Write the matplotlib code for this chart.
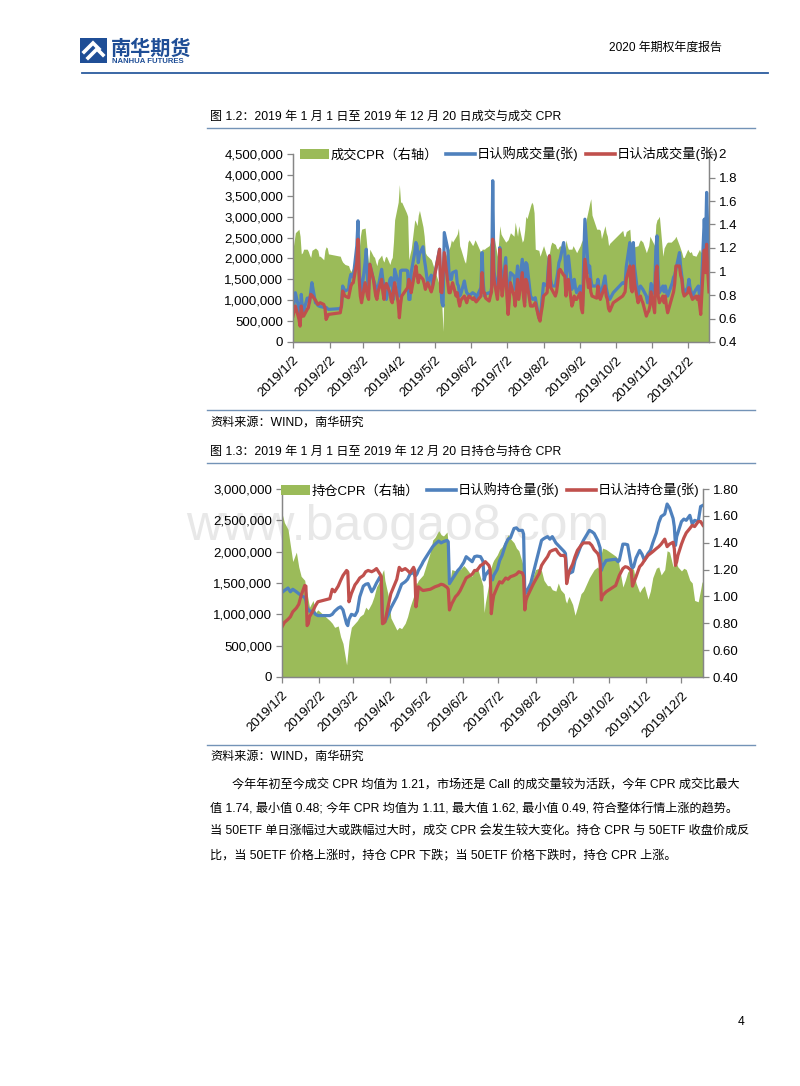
# 2020 期权年度报告 第4页：成交/持仓 CPR 图
import matplotlib
matplotlib.use("Agg")

import pandas as pd
import matplotlib.pyplot as plt
from matplotlib.lines import Line2D
from matplotlib.patches import Patch, Rectangle
from matplotlib.ticker import FuncFormatter, MultipleLocator

# =========================
# 数据（成交量、持仓量单位：百万张）
# =========================
dates_cj = [
    "01-02", "01-03", "01-04", "01-07", "01-08", "01-09", "01-10", "01-11", "01-14", "01-15",
    "01-16", "01-17", "01-18", "01-21", "01-22", "01-23", "01-24", "01-25", "01-28", "01-29",
    "01-30", "01-31", "02-01",
    "02-11", "02-12", "02-13", "02-14", "02-15", "02-18", "02-19", "02-20", "02-21", "02-22",
    "02-25", "02-26", "02-27", "02-28",
    "03-01", "03-04", "03-05", "03-06", "03-07", "03-08", "03-11", "03-12", "03-13", "03-14",
    "03-15", "03-18", "03-19", "03-20", "03-21", "03-22", "03-25", "03-26", "03-27", "03-28",
    "03-29",
    "04-01", "04-02", "04-03", "04-04", "04-08", "04-09", "04-10", "04-11", "04-12", "04-15",
    "04-16", "04-17", "04-18", "04-19", "04-22", "04-23", "04-24", "04-25", "04-26", "04-29",
    "04-30",
    "05-06", "05-07", "05-08", "05-09", "05-10", "05-13", "05-14", "05-15", "05-16", "05-17",
    "05-20", "05-21", "05-22", "05-23", "05-24", "05-27", "05-28", "05-29", "05-30", "05-31",
    "06-03", "06-04", "06-05", "06-06", "06-10", "06-11", "06-12", "06-13", "06-14", "06-17",
    "06-18", "06-19", "06-20", "06-21", "06-24", "06-25", "06-26", "06-27", "06-28",
    "07-01", "07-02", "07-03", "07-04", "07-05", "07-08", "07-09", "07-10", "07-11", "07-12",
    "07-15", "07-16", "07-17", "07-18", "07-19", "07-22", "07-23", "07-24", "07-25", "07-26",
    "07-29", "07-30", "07-31",
    "08-01", "08-02", "08-05", "08-06", "08-07", "08-08", "08-09", "08-12", "08-13", "08-14",
    "08-15", "08-16", "08-19", "08-20", "08-21", "08-22", "08-23", "08-26", "08-27", "08-28",
    "08-29", "08-30",
    "09-02", "09-03", "09-04", "09-05", "09-06", "09-09", "09-10", "09-11", "09-12", "09-16",
    "09-17", "09-18", "09-19", "09-20", "09-23", "09-24", "09-25", "09-26", "09-27", "09-30",
    "10-08", "10-09", "10-10", "10-11", "10-14", "10-15", "10-16", "10-17", "10-18", "10-21",
    "10-22", "10-23", "10-24", "10-25", "10-28", "10-29", "10-30", "10-31",
    "11-01", "11-04", "11-05", "11-06", "11-07", "11-08", "11-11", "11-12", "11-13", "11-14",
    "11-15", "11-18", "11-19", "11-20", "11-21", "11-22", "11-25", "11-26", "11-27", "11-28",
    "11-29",
    "12-02", "12-03", "12-04", "12-05", "12-06", "12-09", "12-10", "12-11", "12-12", "12-13",
    "12-16", "12-17", "12-18", "12-19", "12-20",
]

call_cj = [
    0.78, 0.95, 1.18, 0.80, 0.62, 1.14, 0.80, 0.74, 1.05, 1.05,
    0.94, 1.20, 1.42, 0.94, 0.92, 0.88, 0.86, 0.85, 0.83, 0.82,
    0.83, 0.80, 0.78,
    0.80, 0.85, 1.34, 1.28, 1.22, 1.26, 1.50, 1.62, 1.58, 1.55,
    2.30, 2.90, 1.66, 1.40,
    1.18, 1.90, 2.22, 1.50, 1.26, 1.86, 1.50, 1.42, 1.30, 1.22,
    1.30, 1.74, 1.50, 1.34, 1.20, 1.02, 1.50, 1.54, 1.30, 1.02,
    1.74,
    1.42, 1.10, 1.70, 1.72, 1.72, 1.70, 1.02, 1.02, 1.66, 2.14,
    2.38, 2.30, 1.90, 2.10, 2.28, 2.00, 1.82, 1.60, 1.42, 1.60,
    1.34,
    2.22, 1.40, 0.94, 0.86, 2.62, 2.22, 1.66, 1.50, 1.50, 1.66,
    1.70, 1.40, 1.34, 1.10, 1.15, 1.46, 1.30, 1.18, 1.15, 1.10,
    1.18, 1.16, 1.14, 1.05, 1.30, 2.14, 1.40, 1.10, 1.15, 1.18,
    1.14, 1.30, 3.86, 1.70, 1.18, 1.60, 2.26, 1.70, 1.26,
    2.02, 1.30, 0.94, 1.30, 1.66, 1.58, 1.26, 1.50, 1.82, 1.26,
    1.98, 1.40, 0.94, 1.90, 1.86, 1.10, 1.06, 1.02, 1.04, 1.06,
    0.58, 0.54, 0.80,
    1.10, 1.40, 1.34, 1.80, 2.06, 1.50, 1.34, 1.34, 1.50, 1.66,
    1.90, 1.98, 2.38, 2.14, 1.50, 1.80, 2.06, 1.26, 1.40, 1.50,
    1.30, 1.18,
    1.34, 1.10, 0.86, 2.00, 2.94, 1.66, 1.82, 1.50, 1.34, 1.34,
    1.50, 1.30, 1.22, 1.18, 1.58, 1.30, 1.18, 1.05, 1.02, 1.18,
    1.42, 1.40, 1.40, 1.80, 2.38, 1.70, 1.66, 2.38, 1.80, 1.10,
    1.30, 1.34, 1.30, 1.26, 1.10, 0.94, 1.00, 1.10,
    1.40, 1.15, 2.20, 2.54, 1.50, 1.18, 1.34, 1.20, 1.34, 1.20,
    1.10, 1.34, 1.42, 1.55, 1.60, 1.74, 2.14, 1.80, 1.58, 1.30,
    1.18,
    1.30, 1.50, 1.30, 1.20, 1.10, 1.26, 1.30, 1.34, 1.10, 0.94,
    2.94, 2.22, 3.58, 2.62, 1.90,
]

put_cj = [
    0.62, 0.75, 0.86, 0.55, 0.38, 0.86, 0.62, 0.62, 0.78, 0.82,
    0.98, 1.14, 1.12, 1.00, 0.95, 0.90, 0.92, 0.94, 0.90, 0.82,
    0.54, 0.60, 0.66,
    0.70, 0.87, 1.22, 1.16, 1.10, 1.06, 1.20, 1.34, 1.40, 1.42,
    1.90, 2.46, 1.50, 1.10,
    0.94, 1.42, 1.26, 1.10, 1.02, 1.86, 1.50, 1.30, 1.10, 1.02,
    1.20, 1.50, 1.20, 1.02, 1.34, 1.40, 1.18, 1.00, 0.94, 1.20,
    1.42,
    0.94, 0.58, 0.90, 1.10, 1.26, 1.30, 1.50, 1.40, 1.18, 1.66,
    1.82, 1.60, 1.42, 1.60, 1.50, 1.40, 1.26, 1.35, 1.42, 1.20,
    1.30,
    2.22, 1.20, 1.18, 1.66, 2.14, 1.42, 1.18, 1.18, 1.30, 1.42,
    1.10, 1.18, 1.00, 0.86, 1.00, 1.10, 1.02, 0.94, 1.05, 1.10,
    1.02, 1.06, 1.00, 0.96, 1.10, 1.66, 1.20, 1.18, 1.05, 0.98,
    1.10, 1.20, 2.46, 1.50, 1.02, 1.40, 2.22, 1.40, 1.10,
    1.82, 1.10, 0.66, 1.00, 1.42, 1.10, 0.86, 1.20, 1.50, 1.02,
    1.66, 1.10, 0.86, 1.50, 1.42, 0.86, 0.86, 0.86, 0.90, 0.94,
    0.58, 0.50, 0.70,
    0.86, 1.10, 1.18, 1.60, 2.06, 1.30, 1.26, 1.10, 1.20, 1.42,
    1.70, 1.74, 1.60, 1.58, 1.10, 1.40, 1.50, 0.86, 0.95, 1.10,
    1.02, 1.02,
    1.18, 0.80, 0.70, 1.40, 1.98, 1.30, 1.50, 1.20, 1.10, 1.05,
    1.34, 1.10, 1.02, 1.10, 1.34, 1.10, 1.02, 0.80, 0.74, 0.94,
    1.10, 1.15, 1.20, 1.50, 1.82, 1.30, 1.20, 1.82, 1.40, 0.94,
    1.05, 1.10, 1.00, 0.94, 0.62, 0.70, 0.74, 0.86,
    1.20, 0.70, 1.66, 1.82, 1.10, 0.94, 1.10, 0.94, 1.10, 0.86,
    0.70, 1.00, 1.10, 1.20, 1.40, 1.82, 1.82, 1.60, 1.50, 1.20,
    1.10,
    1.18, 1.30, 1.18, 1.10, 1.02, 1.10, 1.02, 1.10, 0.90, 0.66,
    2.20, 1.66, 2.34, 1.66, 1.20,
]

cpr_cj = [
    1.19, 1.26, 1.33, 1.36, 1.30, 1.15, 1.16, 1.19, 1.19, 1.17,
    1.14, 1.12, 1.18, 1.20, 1.19, 1.18, 1.13, 1.13, 1.10, 1.18,
    1.21, 1.20, 1.15,
    1.13, 1.10, 1.08, 1.07, 1.06, 1.05, 1.02, 1.00, 1.02, 1.04,
    1.16, 1.27, 1.19, 1.30,
    1.36, 1.37, 1.27, 1.15, 1.07, 1.19, 1.13, 1.12, 1.08, 1.05,
    1.10, 1.14, 1.10, 1.08, 1.12, 1.13, 1.06, 1.10, 1.12, 1.25,
    1.44,
    1.59, 1.74, 1.59, 1.59, 1.50, 1.47, 1.10, 1.15, 1.19, 1.44,
    1.42, 1.39, 1.48, 1.52, 1.38, 1.30, 1.16, 1.14, 1.13, 1.10,
    1.07,
    0.88, 0.85, 0.70, 0.49, 1.10, 1.19, 1.19, 1.22, 1.27, 1.25,
    1.30, 1.32, 1.37, 1.22, 1.19, 1.09, 1.07, 1.15, 1.25, 1.27,
    1.22, 1.24, 1.27, 1.25, 1.16, 1.19, 1.19, 1.19, 1.20, 1.22,
    1.25, 1.30, 1.36, 1.30, 1.13, 1.25, 1.39, 1.32, 1.30,
    1.25, 1.26, 1.27, 1.30, 1.33, 1.30, 1.42, 1.36, 1.30, 1.39,
    1.25, 1.27, 1.35, 1.47, 1.45, 1.56, 1.59, 1.57, 1.50, 1.19,
    1.18, 1.13, 1.16,
    1.19, 1.22, 1.12, 1.14, 1.16, 1.22, 1.25, 1.23, 1.20, 1.19,
    1.21, 1.22, 1.19, 1.18, 1.27, 1.22, 1.19, 1.19, 1.22, 1.20,
    1.18, 1.16,
    1.22, 1.25, 1.27, 1.33, 1.39, 1.53, 1.58, 1.62, 1.48, 1.36,
    1.36, 1.36, 1.35, 1.28, 1.39, 1.33, 1.30, 1.22, 1.24, 1.27,
    1.35, 1.30, 1.30, 1.34, 1.36, 1.22, 1.19, 1.18, 1.21, 1.22,
    1.25, 1.27, 1.26, 1.25, 1.16, 1.19, 1.22, 1.30,
    1.28, 1.22, 1.40, 1.44, 1.45, 1.47, 1.13, 1.20, 1.22, 1.24,
    1.25, 1.25, 1.26, 1.27, 1.28, 1.30, 1.22, 1.19, 1.16, 1.12,
    1.12,
    1.19, 1.17, 1.16, 1.17, 1.14, 1.13, 1.15, 1.17, 1.19, 1.16,
    1.22, 1.19, 1.22, 1.19, 1.27,
]

dates_cc = [
    "01-02", "01-04", "01-07", "01-09", "01-11", "01-14", "01-16", "01-18", "01-21", "01-22",
    "01-23", "01-24", "01-25", "01-28", "01-30", "02-01",
    "02-11", "02-13", "02-15", "02-18", "02-20", "02-22", "02-25", "02-26", "02-27",
    "03-01", "03-04", "03-06", "03-08", "03-11", "03-13", "03-15", "03-18", "03-20", "03-22",
    "03-25", "03-26", "03-27", "03-28", "03-29",
    "04-01", "04-03", "04-08", "04-10", "04-12", "04-15", "04-17", "04-19", "04-22", "04-23",
    "04-24", "04-25", "04-26", "04-29", "04-30",
    "05-06", "05-08", "05-10", "05-13", "05-15", "05-17", "05-20", "05-21", "05-22", "05-23",
    "05-24", "05-27", "05-29", "05-31",
    "06-03", "06-05", "06-10", "06-12", "06-14", "06-17", "06-19", "06-20", "06-21", "06-24",
    "06-25", "06-26", "06-27", "06-28",
    "07-01", "07-03", "07-05", "07-08", "07-10", "07-12", "07-15", "07-17", "07-19", "07-22",
    "07-23", "07-24", "07-25", "07-26", "07-29", "07-31",
    "08-02", "08-05", "08-07", "08-09", "08-12", "08-14", "08-16", "08-19", "08-21", "08-23",
    "08-26", "08-27", "08-28", "08-29", "08-30",
    "09-02", "09-04", "09-06", "09-09", "09-11", "09-16", "09-18", "09-20", "09-23", "09-24",
    "09-25", "09-26", "09-27", "09-30",
    "10-08", "10-10", "10-11", "10-14", "10-16", "10-18", "10-21", "10-22", "10-23", "10-25",
    "10-28", "10-30",
    "11-01", "11-04", "11-06", "11-08", "11-11", "11-13", "11-15", "11-18", "11-20", "11-22",
    "11-25", "11-26", "11-27", "11-28", "11-29",
    "12-02", "12-04", "12-06", "12-09", "12-11", "12-13", "12-16", "12-18", "12-19", "12-20",
]

call_cc = [
    1.35, 1.38, 1.42, 1.36, 1.40, 1.36, 1.33, 1.30, 1.27, 1.22,
    1.10, 1.08, 1.05, 1.05, 1.00, 0.98,
    0.98, 1.00, 1.05, 1.10, 1.12, 1.07, 0.85, 0.82, 0.92,
    1.00, 0.98, 1.05, 1.28, 1.45, 1.48, 1.49, 1.36, 1.42, 1.50,
    1.60, 1.57, 0.92, 0.90, 0.88,
    1.00, 1.10, 1.28, 1.38, 1.48, 1.52, 1.56, 1.64, 1.67, 1.62,
    1.62, 1.65, 1.70, 1.80, 1.84,
    2.02, 2.08, 2.12, 2.17, 2.14, 2.16, 2.18, 2.16, 1.49, 1.52,
    1.55, 1.64, 1.70, 1.74,
    1.83, 1.92, 1.84, 1.92, 1.93, 1.92, 1.85, 1.55, 1.62, 1.70,
    1.65, 1.58, 1.55, 1.62,
    1.72, 1.86, 1.94, 2.12, 2.20, 2.22, 2.37, 2.38, 2.34, 2.34,
    2.28, 1.33, 1.36, 1.38, 1.50, 1.65,
    1.80, 2.02, 2.18, 2.21, 2.24, 2.20, 2.24, 2.14, 2.10, 2.06,
    2.00, 1.97, 1.70, 1.66, 1.65,
    1.68, 1.86, 1.95, 2.10, 2.18, 2.34, 2.32, 2.29, 2.18, 2.12,
    2.06, 1.70, 1.76, 1.86,
    1.88, 1.84, 1.86, 2.12, 2.12, 2.11, 1.78, 1.74, 1.76, 1.90,
    2.02, 1.96,
    1.86, 1.97, 2.02, 2.14, 2.30, 2.46, 2.56, 2.60, 2.76, 2.70,
    2.53, 2.40, 2.10, 2.24, 2.30,
    2.48, 2.52, 2.50, 2.58, 2.44, 2.50, 2.48, 2.72, 2.73, 2.74,
]

put_cc = [
    0.80, 0.87, 0.92, 0.96, 1.04, 1.10, 1.16, 1.30, 1.46, 1.45,
    0.82, 0.85, 0.96, 1.06, 1.14, 1.20,
    1.25, 1.40, 1.36, 1.45, 1.54, 1.62, 1.70, 1.68, 1.20,
    1.33, 1.47, 1.52, 1.58, 1.62, 1.68, 1.70, 1.68, 1.70, 1.73,
    1.64, 1.60, 0.85, 0.86, 0.88,
    1.15, 1.33, 1.56, 1.75, 1.70, 1.73, 1.70, 1.66, 1.75, 1.70,
    1.12, 1.25, 1.44, 1.39, 1.38,
    1.40, 1.42, 1.44, 1.46, 1.48, 1.47, 1.43, 1.40, 1.07, 1.12,
    1.17, 1.28, 1.32, 1.38,
    1.50, 1.58, 1.64, 1.70, 1.70, 1.78, 1.80, 1.82, 1.84, 1.78,
    1.72, 1.01, 1.18, 1.30,
    1.44, 1.52, 1.50, 1.58, 1.56, 1.60, 1.62, 1.64, 1.68, 1.66,
    1.60, 1.07, 1.22, 1.28, 1.40, 1.48,
    1.55, 1.65, 1.78, 1.84, 1.92, 2.00, 2.02, 2.04, 1.98, 1.94,
    1.94, 1.90, 1.49, 1.58, 1.68,
    1.80, 1.92, 2.02, 2.10, 2.14, 2.14, 2.10, 2.03, 1.97, 1.92,
    1.80, 1.23, 1.30, 1.36,
    1.46, 1.57, 1.62, 1.73, 1.76, 1.75, 1.70, 1.45, 1.50, 1.60,
    1.76, 1.80,
    1.86, 1.94, 1.97, 2.00, 2.05, 2.08, 2.12, 2.20, 2.08, 2.12,
    2.15, 2.05, 1.78, 1.84, 1.94,
    2.12, 2.22, 2.30, 2.37, 2.42, 2.40, 2.48, 2.48, 2.45, 2.42,
]

cpr_cc = [
    1.62, 1.55, 1.50, 1.38, 1.26, 1.33, 1.22, 1.15, 1.12, 1.06,
    1.02, 0.97, 0.92, 0.97, 0.88, 0.90,
    0.82, 0.80, 0.77, 0.78, 0.70, 0.65, 0.49, 0.58, 0.67,
    0.77, 0.80, 0.82, 0.85, 0.87, 0.92, 0.90, 0.95, 1.00, 1.07,
    1.12, 1.15, 1.18, 1.20, 1.12,
    1.00, 0.84, 0.75, 0.77, 0.76, 0.80, 0.85, 0.92, 1.00, 1.05,
    1.10, 1.10, 1.12, 1.15, 1.16,
    1.33, 1.42, 1.44, 1.49, 1.46, 1.45, 1.48, 1.38, 1.12, 1.15,
    1.20, 1.19, 1.21, 1.20,
    1.23, 1.21, 1.15, 1.20, 1.22, 1.14, 1.08, 0.88, 0.95, 1.10,
    1.18, 1.22, 1.25, 1.27,
    1.31, 1.35, 1.37, 1.42, 1.46, 1.43, 1.40, 1.36, 1.34, 1.25,
    1.18, 1.05, 1.06, 1.07, 1.10, 1.15,
    1.20, 1.21, 1.19, 1.12, 1.08, 1.08, 1.05, 1.04, 1.10, 1.05,
    1.02, 0.97, 0.95, 0.98, 1.00,
    0.94, 0.86, 0.92, 1.02, 1.04, 1.14, 1.17, 1.20, 1.22, 1.20,
    1.27, 1.32, 1.36, 1.35,
    1.30, 1.28, 1.22, 1.07, 1.12, 1.18, 1.22, 1.21, 1.20, 1.10,
    1.03, 1.06,
    1.08, 0.98, 1.04, 1.14, 1.21, 1.22, 1.16, 1.20, 1.34, 1.33,
    1.22, 1.27, 1.26, 1.24, 1.22,
    1.19, 1.21, 1.20, 1.12, 1.10, 0.97, 0.96, 1.05, 1.10, 1.12,
]

month_ticks = ["01-02", "02-02", "03-02", "04-02", "05-02", "06-02",
               "07-02", "08-02", "09-02", "10-02", "11-02", "12-02"]

# =========================
# 样式
# =========================
W, H = 800, 1086
GREEN = "#9BBB59"
BLUE = "#4F81BD"
RED = "#C0504D"
AXIS_GRAY = "#868686"
NAVY = "#1F4E96"
RULE = "#7393B7"
FONT = ["Liberation Sans", "Noto Sans CJK SC"]

plt.rcParams["font.family"] = FONT
plt.rcParams["axes.unicode_minus"] = False


def fx(x):
    return x / W


def fy(y):
    return 1 - y / H


def to_dates(md):
    return pd.to_datetime(["2019-" + d for d in md])


# =========================
# 图表
# =========================
def draw_chart(fig, box, md, cpr, call, put, labels, left_max, right_fmt, legend_xy):
    x = to_dates(md)
    left, top, right, bottom = box
    rect = [fx(left), fy(bottom), fx(right) - fx(left), fy(top) - fy(bottom)]

    ax = fig.add_axes(rect)  # 面积（右轴）
    ax.set_facecolor("none")
    ax.fill_between(x, 0.4, cpr, color=GREEN, lw=0)
    ax.set_ylim(0.4, 2.0 if right_fmt == "g" else 1.8)
    ax.yaxis.set_major_locator(MultipleLocator(0.2))
    if right_fmt == "g":
        ax.yaxis.set_major_formatter(FuncFormatter(lambda v, p: f"{v:g}"))
    else:
        ax.yaxis.set_major_formatter(FuncFormatter(lambda v, p: f"{v:.2f}"))

    axl = ax.twinx()  # 折线（左轴）
    axl.set_facecolor("none")
    axl.plot(x, [v * 1e6 for v in call], color=BLUE, lw=2.3, solid_joinstyle="round")
    axl.plot(x, [v * 1e6 for v in put], color=RED, lw=2.3, solid_joinstyle="round")
    axl.set_ylim(0, left_max)
    axl.yaxis.set_major_locator(MultipleLocator(500000))
    axl.yaxis.set_major_formatter(FuncFormatter(lambda v, p: f"{int(round(v)):,}"))

    # twinx 会把两边对调，这里再换回来
    ax.yaxis.tick_right()
    axl.yaxis.tick_left()

    ax.set_xlim(pd.Timestamp("2019-01-02"), pd.Timestamp("2019-12-20"))
    ticks = to_dates(month_ticks)
    ax.set_xticks(ticks)
    ax.set_xticklabels([f"{t.year}/{t.month}/{t.day}" for t in ticks],
                       rotation=45, ha="right", va="top", rotation_mode="anchor")

    for a in (ax, axl):
        a.spines["top"].set_visible(False)
        for s in ("left", "right", "bottom"):
            a.spines[s].set_color(AXIS_GRAY)
            a.spines[s].set_linewidth(0.9)
        a.tick_params(axis="both", colors=AXIS_GRAY, length=4, width=0.9,
                      labelcolor="black", labelsize=9.5, pad=3)
    ax.tick_params(axis="x", pad=5)

    handles = [Patch(facecolor=GREEN, edgecolor="none"),
               Line2D([], [], color=BLUE, lw=2.6),
               Line2D([], [], color=RED, lw=2.6)]
    axl.legend(handles, labels, ncol=3, loc="center", frameon=False,
               bbox_to_anchor=(fx(legend_xy[0]), fy(legend_xy[1])),
               bbox_transform=fig.transFigure, fontsize=9.5,
               handlelength=2.2, handleheight=0.75, handletextpad=0.15,
               columnspacing=0.55, borderpad=0)


def main():
    assert len(dates_cj) == len(call_cj) == len(put_cj) == len(cpr_cj)
    assert len(dates_cc) == len(call_cc) == len(put_cc) == len(cpr_cc)

    fig = plt.figure(figsize=(W / 100, H / 100), dpi=100)
    fig.patch.set_facecolor("white")

    # 页眉
    fig.add_artist(Rectangle((fx(80), fy(63)), fx(107) - fx(80), fy(38) - fy(63),
                             transform=fig.transFigure, facecolor=NAVY, edgecolor="none"))
    for seg in (((84, 52), (93, 43), (99, 49)), ((88, 58), (97, 49), (103, 55))):
        fig.add_artist(Line2D([fx(p[0]) for p in seg], [fy(p[1]) for p in seg],
                              transform=fig.transFigure, color="white", lw=2.6,
                              solid_joinstyle="miter"))
    fig.text(fx(111), fy(48), "南华期货", fontsize=14.5, fontweight="bold", color=NAVY,
             family=["Noto Sans CJK SC"], va="center", ha="left")
    fig.text(fx(112), fy(61.5), "NANHUA FUTURES", fontsize=5.6, fontweight="bold",
             color=NAVY, va="center", ha="left")
    fig.text(fx(722), fy(48), "2020 年期权年度报告", fontsize=8.6, ha="right", va="center")
    fig.add_artist(Line2D([fx(82), fx(768)], [fy(73), fy(73)], transform=fig.transFigure,
                          color="#2B5C9E", lw=1.3))

    # 水印（置于图表之后）
    fig.text(fx(398), fy(527), "www.baogao8.com", fontsize=36, color="#e8e8e8",
             ha="center", va="center", zorder=-5)

    # 图 1.2
    fig.text(fx(210), fy(117), "图 1.2：2019 年 1 月 1 日至 2019 年 12 月 20 日成交与成交 CPR",
             fontsize=8.7, va="center")
    fig.add_artist(Line2D([fx(207), fx(755)], [fy(128), fy(128)], transform=fig.transFigure,
                          color=RULE, lw=1.0))
    draw_chart(fig, (293, 154, 709, 342), dates_cj, cpr_cj, call_cj, put_cj,
               ["成交CPR（右轴）", "日认购成交量(张)", "日认沽成交量(张)"],
               4500000, "g", (509, 154))
    fig.add_artist(Line2D([fx(207), fx(755)], [fy(410), fy(410)], transform=fig.transFigure,
                          color=RULE, lw=1.0))
    fig.text(fx(210), fy(423), "资料来源：WIND，南华研究", fontsize=8.7, va="center")

    # 图 1.3
    fig.text(fx(210), fy(452), "图 1.3：2019 年 1 月 1 日至 2019 年 12 月 20 日持仓与持仓 CPR",
             fontsize=8.7, va="center")
    fig.add_artist(Line2D([fx(207), fx(755)], [fy(463), fy(463)], transform=fig.transFigure,
                          color=RULE, lw=1.0))
    draw_chart(fig, (282, 489, 703, 677), dates_cc, cpr_cc, call_cc, put_cc,
               ["持仓CPR（右轴）", "日认购持仓量(张)", "日认沽持仓量(张)"],
               3000000, "2f", (490, 490))
    fig.add_artist(Line2D([fx(207), fx(755)], [fy(745), fy(745)], transform=fig.transFigure,
                          color=RULE, lw=1.0))
    fig.text(fx(210), fy(757), "资料来源：WIND，南华研究", fontsize=8.7, va="center")

    # 正文
    lines = [
        (232, "今年年初至今成交 CPR 均值为 1.21，市场还是 Call 的成交量较为活跃，今年 CPR 成交比最大"),
        (210, "值 1.74, 最小值 0.48; 今年 CPR 均值为 1.11, 最大值 1.62, 最小值 0.49, 符合整体行情上涨的趋势。"),
        (210, "当 50ETF 单日涨幅过大或跌幅过大时，成交 CPR 会发生较大变化。持仓 CPR 与 50ETF 收盘价成反"),
        (210, "比，当 50ETF 价格上涨时，持仓 CPR 下跌；当 50ETF 价格下跌时，持仓 CPR 上涨。"),
    ]
    for i, (x0, s) in enumerate(lines):
        fig.text(fx(x0), fy(786 + 23 * i), s, fontsize=8.75, va="center")

    fig.text(fx(741), fy(1022), "4", fontsize=8.7, ha="center", va="center")

    fig.savefig("out.png", dpi=100, facecolor="white")


if __name__ == "__main__":
    main()
